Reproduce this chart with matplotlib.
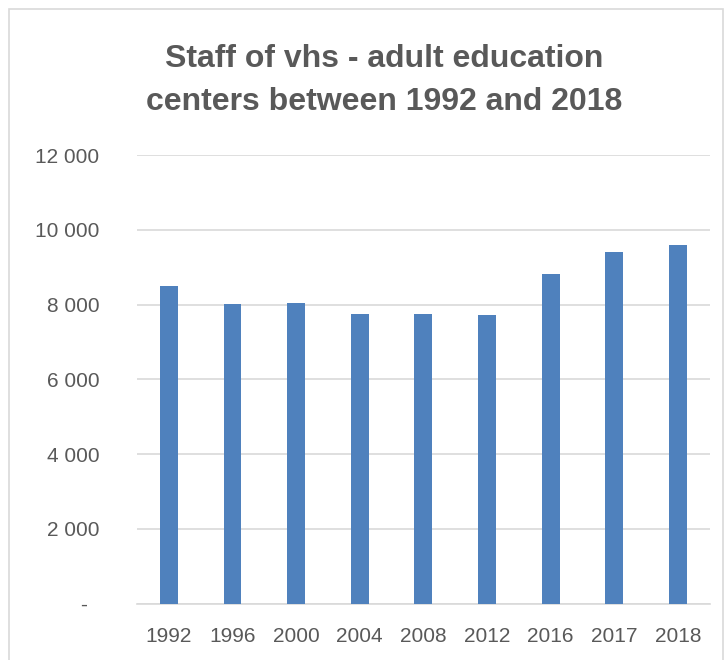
import matplotlib.pyplot as plt
from matplotlib.patches import Rectangle
from matplotlib.ticker import FuncFormatter

plt.rcParams['font.family'] = ['Liberation Sans', 'DejaVu Sans']

years = ['1992', '1996', '2000', '2004', '2008', '2012', '2016', '2017', '2018']
staff = [8495, 8010, 8030, 7735, 7735, 7720, 8825, 9415, 9595]

text_col = '#595959'

fig = plt.figure(figsize=(7.25, 6.6), dpi=100)
ax = fig.add_axes([0.189, 0.0855, 0.79, 0.6795])

ax.bar(range(len(years)), staff, width=0.28, color='#4F81BD', zorder=3)

ax.set_ylim(0, 12000)
ax.set_xlim(-0.5, len(years) - 0.5)
ax.set_yticks(range(0, 12001, 2000))


def fmt(v, pos):
    if v == 0:
        return '-  '
    return f'{int(v):,}'.replace(',', ' ')


ax.yaxis.set_major_formatter(FuncFormatter(fmt))
ax.set_xticks(range(len(years)))
ax.set_xticklabels(years)
ax.grid(axis='y', color='#D9D9D9', linewidth=1.2, zorder=0)
for s in ['top', 'right', 'left']:
    ax.spines[s].set_visible(False)
ax.spines['bottom'].set_color('#D9D9D9')
ax.spines['bottom'].set_linewidth(1.2)
ax.tick_params(axis='both', length=0, labelsize=15, colors=text_col)
ax.tick_params(axis='y', pad=27)
ax.tick_params(axis='x', pad=17)

fig.text(0.53, 0.878, 'Staff of vhs - adult education\ncenters between 1992 and 2018',
         ha='center', va='center', fontsize=23, fontweight='bold',
         color=text_col, linespacing=1.55)

# chart border
fig.patches.append(Rectangle((0.012, -0.01), 0.985, 0.997, transform=fig.transFigure,
                             fill=False, edgecolor='#D9D9D9', linewidth=1.2))

fig.savefig('out.png', dpi=100)
